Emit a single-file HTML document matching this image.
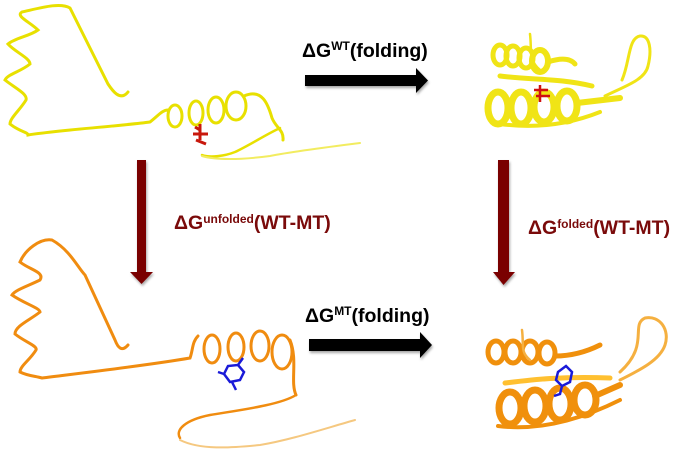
<!DOCTYPE html>
<html><head><meta charset="utf-8"><style>
html,body{margin:0;padding:0;background:#fff;}
svg{display:block;}
text{font-family:"Liberation Sans",sans-serif;font-weight:bold;}
</style></head><body>
<svg width="683" height="458" viewBox="0 0 683 458" xmlns="http://www.w3.org/2000/svg">
<defs>
<filter id="sh" x="-20%" y="-20%" width="140%" height="140%"><feDropShadow dx="1" dy="2" stdDeviation="1.2" flood-color="#000" flood-opacity="0.35"/></filter>
</defs>

<!-- Unfolded WT (yellow) -->
<g fill="none" stroke="#e8e000" stroke-width="3" stroke-linecap="round">
<path d="M128,92 C120,102 112,90 108,84 L70,8 C60,2 40,8 22,12 C15,16 30,22 38,30 C30,36 15,38 8,44 C15,52 30,58 30,64 C20,72 8,74 5,80 C15,88 28,94 26,100 C20,110 10,118 10,124 C20,132 28,132 28,135 C60,130 120,126 150,122 C158,116 162,110 168,110"/>
<ellipse cx="175" cy="116" rx="7" ry="11"/>
<ellipse cx="196" cy="113" rx="7" ry="12"/>
<ellipse cx="216" cy="110" rx="8" ry="13"/>
<ellipse cx="236" cy="106" rx="10" ry="14"/>
<path d="M244,96 C262,88 268,104 272,118 C276,128 284,130 283,140"/>
<path d="M280,128 C265,135 250,145 235,152 C225,156 210,158 202,155" stroke-width="2.5"/>
<path d="M202,156 C215,160 240,160 270,156 C290,152 320,148 360,143" stroke="#f2ec60" stroke-width="2"/>
</g>
<g stroke="#c8180c" stroke-width="3" fill="none">
<path d="M200,124 L200,140 M193,134 L208,134 M196,140 L206,144 M200,130 L195,127"/>
</g>

<!-- Unfolded MT (orange) -->
<g fill="none" stroke="#f08c10" stroke-width="3" stroke-linecap="round">
<path d="M128,345 C122,352 118,348 115,340 L85,275 C78,268 70,250 52,240 C40,238 25,250 20,262 C30,270 45,272 40,280 C28,286 15,290 12,295 C25,304 40,308 40,312 C30,320 15,326 15,334 C25,342 38,346 36,350 C30,360 20,366 20,372 C28,376 35,376 42,378 C90,372 150,365 190,358 C193,350 192,342 198,336"/>
<ellipse cx="212" cy="349" rx="8" ry="14"/>
<ellipse cx="236" cy="347" rx="8" ry="14"/>
<ellipse cx="260" cy="346" rx="9" ry="15"/>
<ellipse cx="282" cy="352" rx="10" ry="17"/>
<path d="M290,340 C298,360 290,382 296,395"/>
<path d="M296,395 C280,405 240,410 210,415 C185,420 175,430 180,438" stroke-width="2.5"/>
<path d="M180,440 C200,450 230,448 260,445 C290,440 320,430 355,420" stroke="#f5c880" stroke-width="2"/>
</g>
<g stroke="#1a1ad8" stroke-width="2.5" fill="none">
<path d="M243,358 L238,365 L228,366 L224,374 L230,382 L240,380 L244,372 L238,365 M224,374 L218,372 M232,382 L236,390"/>
</g>

<!-- Folded WT (yellow) -->
<g fill="none" stroke="#f0e416" stroke-linecap="round">
<ellipse cx="500" cy="55" rx="7" ry="10" stroke-width="5"/>
<ellipse cx="513" cy="56" rx="7" ry="10" stroke-width="5"/>
<ellipse cx="526" cy="58" rx="7" ry="10" stroke-width="5"/>
<ellipse cx="540" cy="61" rx="8" ry="11" stroke-width="6"/>
<path d="M548,62 C560,58 570,58 575,64" stroke-width="5"/>
<path d="M500,76 C530,80 560,78 592,86" stroke-width="5"/>
<ellipse cx="498" cy="108" rx="10" ry="16" stroke-width="7"/>
<ellipse cx="521" cy="108" rx="10" ry="16" stroke-width="7"/>
<ellipse cx="544" cy="107" rx="10" ry="15" stroke-width="7"/>
<ellipse cx="567" cy="106" rx="10" ry="15" stroke-width="7"/>
<path d="M577,103 L620,98" stroke-width="6"/>
<path d="M500,124 C530,128 565,126 600,112" stroke-width="4"/>
<path d="M605,96 C625,86 645,80 648,66 C652,50 650,35 640,36 C628,38 630,62 622,80" stroke-width="3"/>
<path d="M530,34 C532,50 528,60 540,70" stroke-width="2.5"/>
</g>
<g stroke="#d01010" stroke-width="2.5" fill="none">
<path d="M540,85 L540,102 M534,90 L548,90 M536,96 L550,96"/>
</g>

<!-- Folded MT (orange) -->
<g fill="none" stroke="#f0900c" stroke-linecap="round">
<ellipse cx="496" cy="352" rx="8" ry="11" stroke-width="5"/>
<ellipse cx="513" cy="352" rx="8" ry="11" stroke-width="5"/>
<ellipse cx="530" cy="352" rx="8" ry="11" stroke-width="5"/>
<ellipse cx="547" cy="353" rx="8" ry="11" stroke-width="5"/>
<path d="M555,356 C575,356 590,350 600,345" stroke-width="5"/>
<path d="M505,383 C530,380 560,376 610,378" stroke="#ffc030" stroke-width="5"/>
<ellipse cx="510" cy="408" rx="11" ry="16" stroke-width="7"/>
<ellipse cx="535" cy="406" rx="11" ry="16" stroke-width="7"/>
<ellipse cx="560" cy="404" rx="11" ry="16" stroke-width="7"/>
<ellipse cx="585" cy="400" rx="11" ry="15" stroke-width="7"/>
<path d="M595,396 L620,385" stroke-width="6"/>
<path d="M498,426 C530,430 570,425 620,400" stroke-width="4"/>
<path d="M620,380 C640,370 660,360 665,345 C670,330 660,315 645,318 C630,325 650,345 620,372" stroke="#f5b040" stroke-width="3"/>
<path d="M522,330 C524,345 520,352 530,360" stroke="#f5b040" stroke-width="2.5"/>
</g>
<g stroke="#1a1ad8" stroke-width="2.5" fill="none">
<path d="M566,366 L572,372 L570,382 L562,386 L556,380 L558,372 Z M562,386 L560,394 L554,396"/>
</g>

<!-- Arrows -->
<g filter="url(#sh)" fill="#000">
<rect x="305" y="75" width="113" height="11"/>
<polygon points="416,68 428,80.5 416,93"/>
</g>
<g filter="url(#sh)" fill="#000">
<rect x="309" y="339" width="113" height="12"/>
<polygon points="420,332 432,345 420,358"/>
</g>
<g filter="url(#sh)" fill="#7a0606">
<rect x="137" y="160" width="9" height="113"/>
<polygon points="130,272 153,272 141.5,284"/>
</g>
<g filter="url(#sh)" fill="#7a0606">
<rect x="498" y="160" width="11" height="113"/>
<polygon points="493,272 515,272 503.5,285"/>
</g>

<!-- Labels -->
<text x="302" y="57" font-size="19.5" fill="#000">ΔG<tspan font-size="12" dy="-7">WT</tspan><tspan dy="7">(folding)</tspan></text>
<text x="305" y="322" font-size="19.5" fill="#000">ΔG<tspan font-size="12" dy="-7">MT</tspan><tspan dy="7">(folding)</tspan></text>
<text x="174" y="229" font-size="19.5" fill="#7a0a0a">ΔG<tspan font-size="12" dy="-6">unfolded</tspan><tspan dy="6">(WT-MT)</tspan></text>
<text x="528" y="234" font-size="19.5" fill="#7a0a0a">ΔG<tspan font-size="12" dy="-6">folded</tspan><tspan dy="6">(WT-MT)</tspan></text>
</svg>
</body></html>
